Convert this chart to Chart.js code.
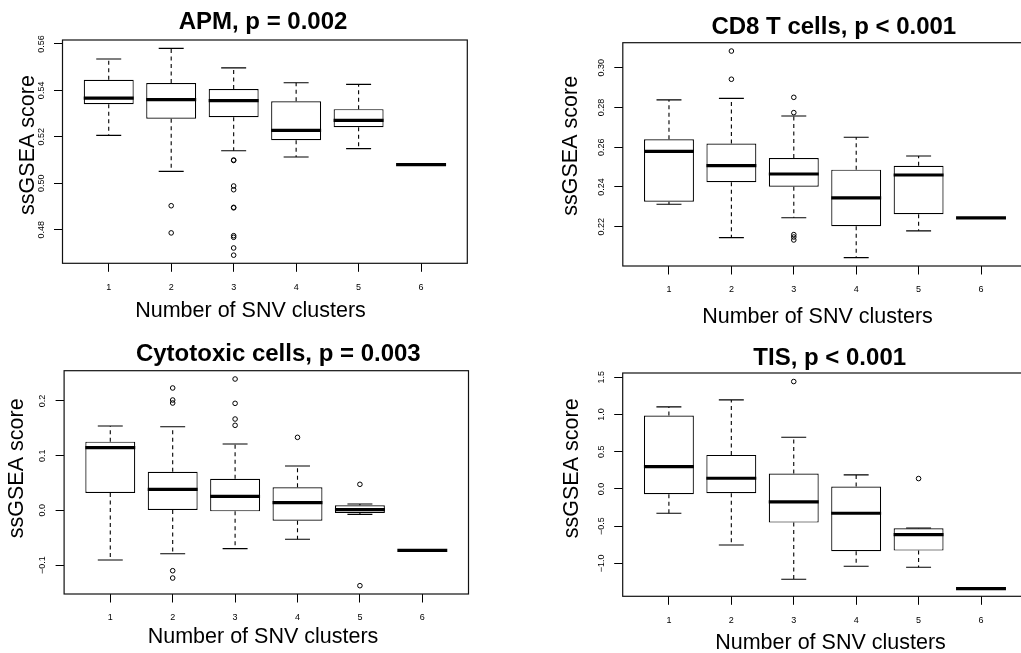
<!DOCTYPE html>
<html>
<head>
<meta charset="utf-8">
<title>ssGSEA score by number of SNV clusters</title>
<script src="https://cdn.jsdelivr.net/npm/chart.js@4.4.1/dist/chart.umd.min.js"></script>
<style>
  html, body { margin: 0; padding: 0; background: #fff; }
  #page { position: relative; width: 1021px; height: 653px; overflow: hidden; }
  #page canvas { position: absolute; }
</style>
</head>
<body>
<div id="page">
  <canvas id="apm-chart"></canvas>
  <canvas id="cd8-chart"></canvas>
  <canvas id="cyto-chart"></canvas>
  <canvas id="tis-chart"></canvas>
</div>
<script>
// groups on the x axis (same for all four panels)
const clusters = [1, 2, 3, 4, 5, 6];
const clusterLabels = ['1', '2', '3', '4', '5', '6'];

// APM
const apmLow  = [0.5206, 0.5051, 0.5140, 0.5113, 0.5149, 0.5080];
const apmQ1   = [0.5340, 0.5278, 0.5284, 0.5185, 0.5241, 0.5080];
const apmMed  = [0.5367, 0.5360, 0.5356, 0.5228, 0.5271, 0.5080];
const apmQ3   = [0.5446, 0.5432, 0.5406, 0.5353, 0.5319, 0.5080];
const apmHigh = [0.5535, 0.5581, 0.5497, 0.5433, 0.5426, 0.5080];
const apmOut  = [[2, 0.4903], [2, 0.4786], [3, 0.5100], [3, 0.5098], [3, 0.4988], [3, 0.4972],
                 [3, 0.4896], [3, 0.4894], [3, 0.4774], [3, 0.4767], [3, 0.4721], [3, 0.4690]];
const apmTicks = [0.48, 0.50, 0.52, 0.54, 0.56];
const apmTickLabels = ['0.48', '0.50', '0.52', '0.54', '0.56'];

// CD8 T cells
const cd8Low  = [0.2313, 0.2145, 0.2245, 0.2044, 0.2179, 0.2244];
const cd8Q1   = [0.2326, 0.2424, 0.2401, 0.2202, 0.2263, 0.2244];
const cd8Med  = [0.2579, 0.2507, 0.2465, 0.2345, 0.2460, 0.2244];
const cd8Q3   = [0.2640, 0.2618, 0.2546, 0.2487, 0.2506, 0.2244];
const cd8High = [0.2838, 0.2846, 0.2757, 0.2650, 0.2556, 0.2244];
const cd8Out  = [[2, 0.3084], [2, 0.2942], [3, 0.2851], [3, 0.2774], [3, 0.2160], [3, 0.2148], [3, 0.2133]];
const cd8Ticks = [0.22, 0.24, 0.26, 0.28, 0.30];
const cd8TickLabels = ['0.22', '0.24', '0.26', '0.28', '0.30'];

// Cytotoxic cells
const cytoLow  = [-0.0909, -0.0793, -0.0701, -0.0530, -0.0073, -0.0732];
const cytoQ1   = [0.0317, 0.0006, -0.0018, -0.0189, -0.0049, -0.0732];
const cytoMed  = [0.1146, 0.0384, 0.0256, 0.0140, 0.0012, -0.0732];
const cytoQ3   = [0.1256, 0.0707, 0.0579, 0.0421, 0.0091, -0.0732];
const cytoHigh = [0.1543, 0.1530, 0.1213, 0.0811, 0.0116, -0.0732];
const cytoOut  = [[2, 0.2238], [2, 0.2018], [2, 0.1963], [2, -0.1104], [2, -0.1238],
                  [3, 0.2402], [3, 0.1957], [3, 0.1670], [3, 0.1555], [4, 0.1335], [5, 0.0476], [5, -0.1378]];
const cytoTicks = [-0.1, 0.0, 0.1, 0.2];
const cytoTickLabels = ['\u22120.1', '0.0', '0.1', '0.2'];

// TIS
const tisLow  = [-0.327, -0.753, -1.214, -1.039, -1.053, -1.340];
const tisQ1   = [-0.072, -0.058, -0.453, -0.838, -0.829, -1.340];
const tisMed  = [0.300, 0.143, -0.175, -0.327, -0.614, -1.340];
const tisQ3   = [0.986, 0.457, 0.206, 0.031, -0.529, -1.340];
const tisHigh = [1.102, 1.196, 0.694, 0.188, -0.525, -1.340];
const tisOut  = [[3, 1.443], [5, 0.139]];
const tisTicks = [-1.0, -0.5, 0.0, 0.5, 1.0, 1.5];
const tisTickLabels = ['\u22121.0', '\u22120.5', '0.0', '0.5', '1.0', '1.5'];

const FONT = '"Liberation Sans", Arial, Helvetica, sans-serif';

// page layout: canvas boxes and plot areas are in page pixels
const panels = [
  { id: 'apm-chart', box: [0, 0, 505, 330], area: [62.5, 40, 467.3, 263.3],
    yRange: [0.4655, 0.5617], yTicks: apmTicks, yLabels: apmTickLabels,
    low: apmLow, q1: apmQ1, med: apmMed, q3: apmQ3, high: apmHigh, out: apmOut,
    title: 'APM, p = 0.002', titleAt: [263, 29.4], xTitleAt: [250.5, 316.7], yTitleAt: [33.5, 145] },
  { id: 'cd8-chart', box: [520, 0, 525, 330], area: [622.8, 42.7, 1027.2, 266],
    yRange: [0.2002, 0.3126], yTicks: cd8Ticks, yLabels: cd8TickLabels,
    low: cd8Low, q1: cd8Q1, med: cd8Med, q3: cd8Q3, high: cd8High, out: cd8Out,
    title: 'CD8 T cells, p < 0.001', titleAt: [833.8, 34.4], xTitleAt: [817.5, 322.7], yTitleAt: [576.7, 145.8] },
  { id: 'cyto-chart', box: [0, 330, 505, 323], area: [64.1, 370.7, 468.5, 594],
    yRange: [-0.1530, 0.2554], yTicks: cytoTicks, yLabels: cytoTickLabels,
    low: cytoLow, q1: cytoQ1, med: cytoMed, q3: cytoQ3, high: cytoHigh, out: cytoOut,
    title: 'Cytotoxic cells, p = 0.003', titleAt: [278.3, 360.6], xTitleAt: [263, 643.3], yTitleAt: [23.3, 468.3] },
  { id: 'tis-chart', box: [520, 330, 525, 323], area: [622.7, 373, 1027.2, 596.3],
    yRange: [-1.4435, 1.5578], yTicks: tisTicks, yLabels: tisTickLabels,
    low: tisLow, q1: tisQ1, med: tisMed, q3: tisQ3, high: tisHigh, out: tisOut,
    title: 'TIS, p < 0.001', titleAt: [829.7, 364.8], xTitleAt: [830.5, 649.3], yTitleAt: [578.3, 468.3] }
];

// whiskers, staples, medians, frame and titles (R boxplot look)
function rBoxplot(p) {
  const ox = p.box[0], oy = p.box[1];
  return {
    id: 'rBoxplot',
    afterDatasetsDraw(chart) {
      const ctx = chart.ctx;
      const xs = chart.scales.x, ys = chart.scales.y;
      const bars = chart.getDatasetMeta(0).data;
      ctx.save();
      ctx.strokeStyle = '#000';
      clusters.forEach((c, i) => {
        const x = xs.getPixelForValue(c);
        const half = bars[i].width / 2;
        const cap = half / 2;
        const yLow = ys.getPixelForValue(p.low[i]);
        const yQ1 = ys.getPixelForValue(p.q1[i]);
        const yMed = ys.getPixelForValue(p.med[i]);
        const yQ3 = ys.getPixelForValue(p.q3[i]);
        const yHigh = ys.getPixelForValue(p.high[i]);

        ctx.lineWidth = 1.1;
        ctx.setLineDash([4, 3.5]);
        ctx.beginPath();
        ctx.moveTo(x, yQ3); ctx.lineTo(x, yHigh);
        ctx.moveTo(x, yQ1); ctx.lineTo(x, yLow);
        ctx.stroke();
        ctx.setLineDash([]);

        ctx.beginPath();
        ctx.moveTo(x - cap, yHigh); ctx.lineTo(x + cap, yHigh);
        ctx.moveTo(x - cap, yLow); ctx.lineTo(x + cap, yLow);
        ctx.stroke();

        ctx.lineWidth = 3.2;
        ctx.beginPath();
        ctx.moveTo(x - half, yMed); ctx.lineTo(x + half, yMed);
        ctx.stroke();
      });
      ctx.restore();
    },
    afterDraw(chart) {
      const ctx = chart.ctx;
      const a = chart.chartArea;
      ctx.save();
      ctx.strokeStyle = '#111';
      ctx.lineWidth = 1.2;
      ctx.strokeRect(a.left, a.top, a.right - a.left, a.bottom - a.top);

      ctx.fillStyle = '#000';
      ctx.textAlign = 'center';
      ctx.textBaseline = 'alphabetic';
      ctx.font = 'bold 24px ' + FONT;
      ctx.fillText(p.title, p.titleAt[0] - ox, p.titleAt[1] - oy);

      ctx.font = '21.5px ' + FONT;
      ctx.fillText('Number of SNV clusters', p.xTitleAt[0] - ox, p.xTitleAt[1] - oy);

      ctx.translate(p.yTitleAt[0] - ox, p.yTitleAt[1] - oy);
      ctx.rotate(-Math.PI / 2);
      ctx.fillText('ssGSEA score', 0, 0);
      ctx.restore();
    }
  };
}

panels.forEach(p => {
  const canvas = document.getElementById(p.id);
  const [left, top, W, H] = p.box;
  canvas.width = W;
  canvas.height = H;
  canvas.style.left = left + 'px';
  canvas.style.top = top + 'px';
  const aL = p.area[0] - left, aT = p.area[1] - top, aR = p.area[2] - left, aB = p.area[3] - top;

  new Chart(canvas, {
    type: 'bar',
    data: {
      datasets: [{
        label: 'IQR',
        data: clusters.map((c, i) => ({ x: c, y: [p.q1[i], p.q3[i]] })),
        backgroundColor: '#fff',
        borderColor: '#000',
        borderWidth: 1.2,
        borderSkipped: false,
        barPercentage: 0.8,
        categoryPercentage: 1.0
      }, {
        type: 'scatter',
        label: 'Outliers',
        data: p.out.map(o => ({ x: o[0], y: o[1] })),
        pointStyle: 'circle',
        pointRadius: 2.3,
        pointBorderWidth: 1,
        pointBorderColor: '#000',
        pointBackgroundColor: 'rgba(0,0,0,0)'
      }]
    },
    options: {
      responsive: false,
      animation: false,
      events: [],
      layout: { padding: { left: 0, top: aT, right: W - aR, bottom: 0 } },
      plugins: {
        legend: { display: false },
        tooltip: { enabled: false },
        title: { display: false }
      },
      scales: {
        x: {
          type: 'linear',
          min: 0.26,
          max: 6.74,
          bounds: 'data',
          offset: false,
          grid: { drawOnChartArea: false, offset: false, tickLength: 8.5, color: '#000', lineWidth: 1 },
          border: { display: false },
          ticks: {
            autoSkip: false, maxRotation: 0, padding: 10, color: '#000',
            font: { family: FONT, size: 9 },
            callback: (v, i) => clusterLabels[i]
          },
          afterBuildTicks: s => { s.ticks = clusters.map(v => ({ value: v })); },
          afterFit: s => { s.height = H - aB; s.paddingLeft = 0; s.paddingRight = 0; }
        },
        y: {
          type: 'linear',
          min: p.yRange[0],
          max: p.yRange[1],
          bounds: 'data',
          grid: { drawOnChartArea: false, tickLength: 8.5, color: '#000', lineWidth: 1 },
          border: { display: false },
          ticks: {
            autoSkip: false, minRotation: 90, maxRotation: 90, crossAlign: 'center', padding: 4,
            color: '#000', font: { family: FONT, size: 9 },
            callback: (v, i) => p.yLabels[i]
          },
          afterBuildTicks: s => { s.ticks = p.yTicks.map(v => ({ value: v })); },
          afterFit: s => { s.width = aL; s.paddingTop = 0; s.paddingBottom = 0; }
        }
      }
    },
    plugins: [rBoxplot(p)]
  });
});
</script>
</body>
</html>
